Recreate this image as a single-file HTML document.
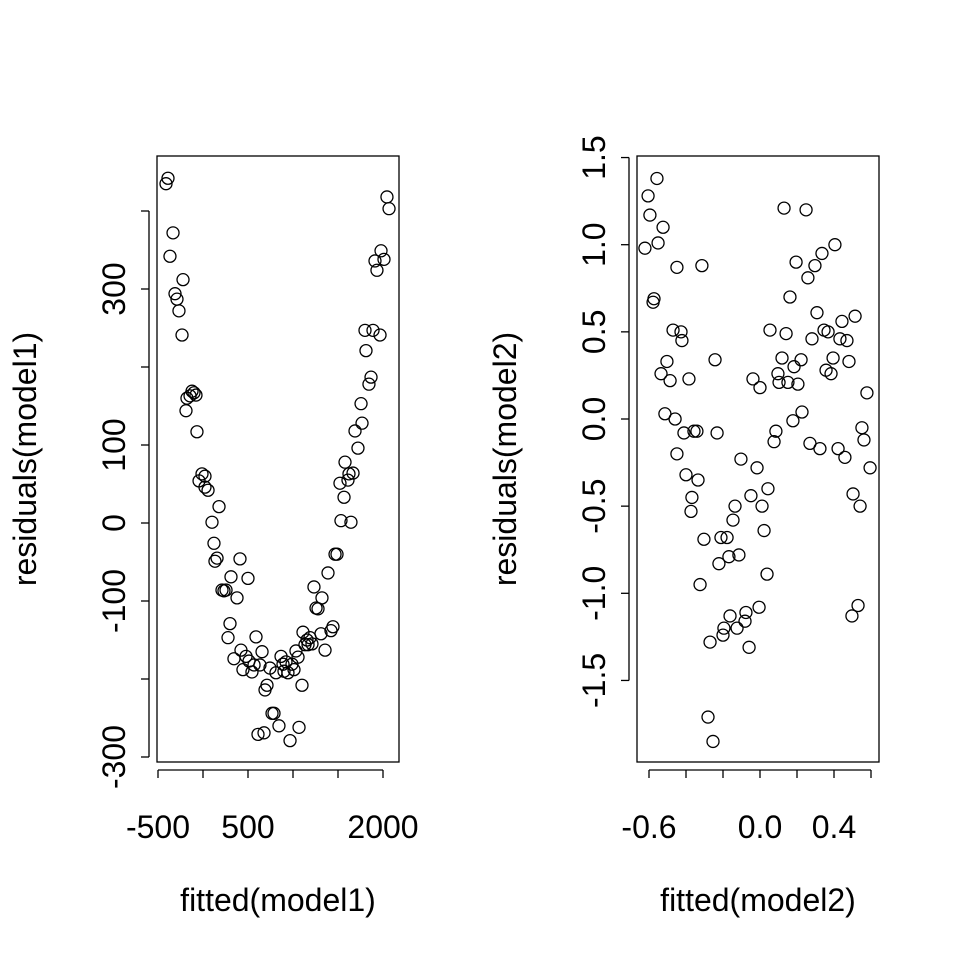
<!DOCTYPE html>
<html><head><meta charset="utf-8"><style>
html,body{margin:0;padding:0;background:#fff;}
svg text{font-family:"Liberation Sans",Arial,sans-serif;font-size:32px;fill:#000;}
</style></head><body>
<svg id="chart" width="960" height="960" viewBox="0 0 960 960">
<rect width="960" height="960" fill="#fff"/>
</svg>
<script>
const x1Vals=[-411,-389,-367,-333,-311,-289,-267,-233,-222,-189,-178,-144,-122,-100,-78,-67,-44,-11,22,22,56,100,122,133,156,178,211,233,256,278,300,311,344,378,411,422,444,478,500,511,544,567,589,611,633,656,678,689,711,744,767,789,811,844,867,889,900,922,944,967,989,1011,1033,1056,1067,1100,1111,1133,1156,1167,1189,1211,1233,1256,1278,1311,1322,1356,1389,1422,1444,1467,1489,1522,1533,1567,1578,1611,1622,1644,1667,1689,1722,1756,1767,1800,1811,1844,1867,1889,1911,1933,1967,1978,2011,2044,2067];
const y1Vals=[435,442,342,372,294,287,272,241,312,144,160,163,169,167,164,117,54,63,60,46,42,1,-26,-49,-45,21,-86,-87,-86,-147,-129,-69,-174,-96,-46,-163,-188,-171,-71,-177,-191,-182,-146,-271,-182,-165,-269,-214,-208,-186,-244,-244,-192,-260,-171,-181,-190,-178,-192,-279,-181,-188,-164,-172,-262,-208,-140,-156,-150,-156,-147,-155,-82,-109,-110,-142,-96,-163,-64,-138,-133,-40,-40,51,3,33,78,55,63,1,64,118,96,153,128,247,221,178,187,247,336,324,241,349,338,418,403];
const x2Vals=[-.622,-.605,-.595,-.578,-.573,-.557,-.551,-.535,-.524,-.514,-.503,-.486,-.470,-.459,-.449,-.449,-.427,-.422,-.411,-.400,-.384,-.373,-.368,-.357,-.341,-.335,-.324,-.314,-.303,-.281,-.270,-.254,-.243,-.232,-.222,-.211,-.200,-.195,-.178,-.168,-.162,-.146,-.135,-.124,-.114,-.103,-.081,-.076,-.059,-.049,-.038,-.016,-.005,0,.011,.022,.038,.043,.054,.076,.086,.097,.103,.119,.130,.141,.151,.162,.178,.184,.195,.205,.222,.227,.249,.259,.270,.281,.297,.308,.324,.335,.346,.357,.368,.384,.395,.405,.422,.432,.443,.459,.470,.481,.497,.503,.514,.530,.541,.551,.562,.578,.595];
const y2Vals=[.98,1.28,1.17,.67,.69,1.38,1.01,.26,1.10,.03,.33,.22,.51,0,-.20,.87,.50,.45,-.08,-.32,.23,-.53,-.45,-.07,-.07,-.35,-.95,.88,-.69,-1.71,-1.28,-1.85,.34,-.08,-.83,-.68,-1.24,-1.20,-.68,-.79,-1.13,-.58,-.50,-1.20,-.78,-.23,-1.16,-1.11,-1.31,-.44,.23,-.28,-1.08,.18,-.50,-.64,-.89,-.40,.51,-.13,-.07,.26,.21,.35,1.21,.49,.21,.70,-.01,.30,.90,.20,.34,.04,1.20,.81,-.14,.46,.88,.61,-.17,.95,.51,.28,.50,.26,.35,1.00,-.17,.46,.56,-.22,.45,.33,-1.13,-.43,.59,-1.07,-.50,-.05,-.12,.15,-.28];
const x1Ticks=[-500,0,500,1000,1500,2000];
const x1Labels=["-500","","500","","","2000"];
const y1Ticks=[-300,-200,-100,0,100,200,300,400];
const y1Labels=["-300","","-100","0","100","","300",""];
const x2Ticks=[-0.6,-0.4,-0.2,0,0.2,0.4,0.6];
const x2Labels=["-0.6","","","0.0","","0.4",""];
const y2Ticks=[-1.5,-1,-0.5,0,0.5,1,1.5];
const y2Labels=["-1.5","-1.0","-0.5","0.0","0.5","1.0","1.5"];

const svg=document.getElementById('chart');
const NS='http://www.w3.org/2000/svg';
function mk(tag,attrs,parent){const e=document.createElementNS(NS,tag);for(const k in attrs)e.setAttribute(k,attrs[k]);(parent||svg).appendChild(e);return e;}

function panel(p){
  const g=mk('g',{});
  
  
  const sx=v=>p.x0+(v-p.xa)*p.kx;
  const sy=v=>p.y0-(v-p.ya)*p.ky;
  const box=mk('rect',{x:p.bx,y:156,width:242,height:606,fill:'none',stroke:'#000','stroke-width':1.3},g);
  
  
  const xa=mk('g',{},g);
  
  
  mk('line',{x1:sx(p.xt[0]),x2:sx(p.xt[p.xt.length-1]),y1:770,y2:770,stroke:'#000','stroke-width':1.3},xa);
  p.xt.forEach((t,i)=>{
    mk('line',{x1:sx(t),x2:sx(t),y1:770,y2:778,stroke:'#000','stroke-width':1.3},xa);
    if(p.xl[i]){const tx=mk('text',{x:sx(t),y:838,'text-anchor':'middle'},xa);tx.textContent=p.xl[i];
      
      }
  });
  const ya=mk('g',{},g);
  
  
  const ax=p.bx-8;
  mk('line',{x1:ax,x2:ax,y1:sy(p.yt[0]),y2:sy(p.yt[p.yt.length-1]),stroke:'#000','stroke-width':1.3},ya);
  p.yt.forEach((t,i)=>{
    mk('line',{x1:ax,x2:ax-8,y1:sy(t),y2:sy(t),stroke:'#000','stroke-width':1.3},ya);
    if(p.yl[i]){const ty=sy(t);const tx=mk('text',{x:0,y:0,'text-anchor':'middle',transform:`translate(${ax-24},${ty}) rotate(-90)`},ya);tx.textContent=p.yl[i];
      
      }
  });
  const xt=mk('text',{x:p.bx+121,y:911,'text-anchor':'middle'},g);xt.textContent=p.xtitle;
  
  
  const yt=mk('text',{x:0,y:0,'text-anchor':'middle',transform:`translate(${p.bx-121},459) rotate(-90)`},g);yt.textContent=p.ytitle;
  
  
  p.xs.forEach((v,i)=>{
    const c=mk('circle',{cx:sx(v),cy:sy(p.ys[i]),r:6,fill:'none',stroke:'#000','stroke-width':1.3},g);
    
    
  });
}
panel({name:'model1-panel',bx:157,x0:158,xa:-500,kx:0.09,y0:523,ya:0,ky:0.78,xt:x1Ticks,xl:x1Labels,yt:y1Ticks,yl:y1Labels,xs:x1Vals,ys:y1Vals,xtitle:'fitted(model1)',ytitle:'residuals(model1)'});
panel({name:'model2-panel',bx:637,x0:760,xa:0,kx:185,y0:419,ya:0,ky:174.3,xt:x2Ticks,xl:x2Labels,yt:y2Ticks,yl:y2Labels,xs:x2Vals,ys:y2Vals,xtitle:'fitted(model2)',ytitle:'residuals(model2)'});
</script>
</body></html>
